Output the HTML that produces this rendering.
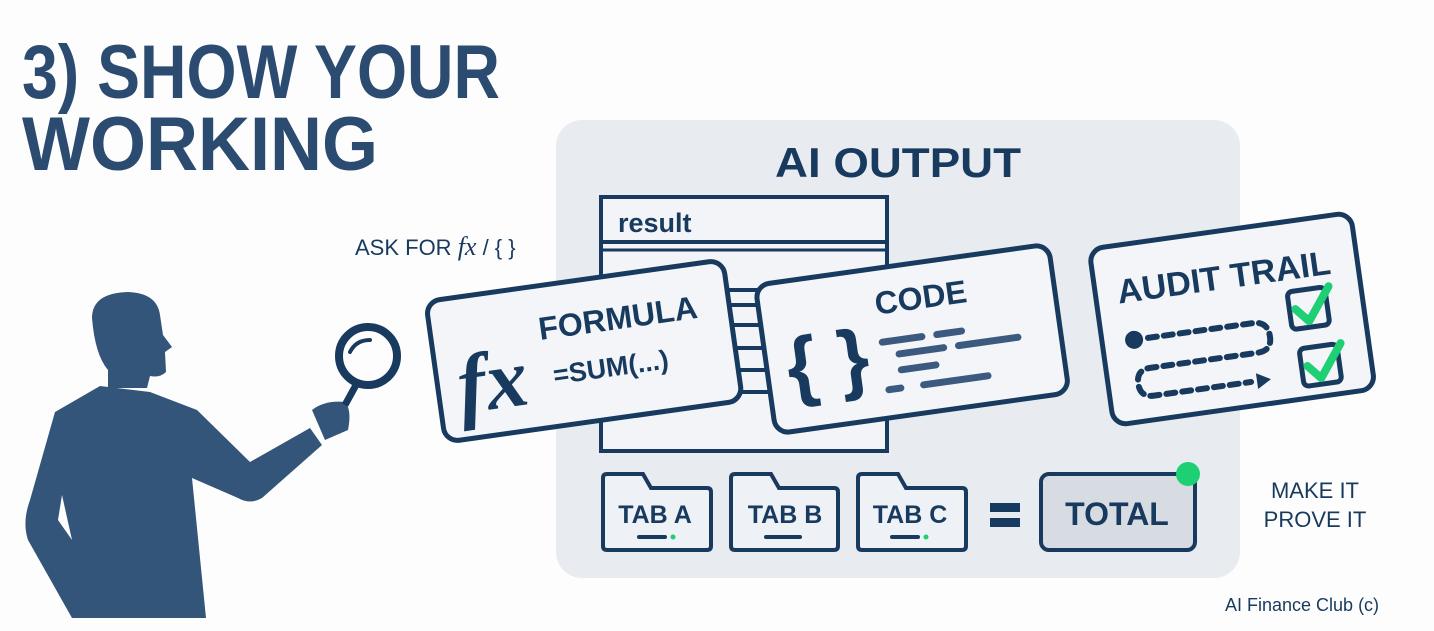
<!DOCTYPE html>
<html><head><meta charset="utf-8"><style>html,body{margin:0;padding:0;background:#fff}svg{display:block}</style></head>
<body>
<svg width="1434" height="631" viewBox="0 0 1434 631" xmlns="http://www.w3.org/2000/svg" font-family="Liberation Sans, sans-serif">
<rect width="1434" height="631" fill="#fdfdfe"/>
<text x="22" y="98" font-size="76" font-weight="bold" fill="#2b4b70" textLength="478" lengthAdjust="spacingAndGlyphs">3) SHOW YOUR</text>
<text x="22" y="170" font-size="76" font-weight="bold" fill="#2b4b70" textLength="356" lengthAdjust="spacingAndGlyphs">WORKING</text>
<rect x="556" y="120" width="684" height="458" rx="26" fill="#e8ecf1"/>
<text x="898" y="177" font-size="42" font-weight="bold" fill="#173a5e" text-anchor="middle" textLength="246" lengthAdjust="spacingAndGlyphs">AI OUTPUT</text>
<rect x="601" y="197" width="286" height="254" fill="#f2f4f7" stroke="#173a5e" stroke-width="4"/>
<line x1="601" y1="242" x2="887" y2="242" stroke="#173a5e" stroke-width="4"/>
<line x1="601" y1="250" x2="887" y2="250" stroke="#173a5e" stroke-width="3"/>
<text x="618" y="232" font-size="27" font-weight="bold" fill="#173a5e">result</text>
<g stroke="#173a5e" stroke-width="4"><line x1="700" y1="290" x2="780" y2="290"/><line x1="700" y1="305" x2="780" y2="305"/><line x1="700" y1="325" x2="780" y2="325"/><line x1="700" y1="348" x2="780" y2="348"/><line x1="700" y1="370" x2="780" y2="370"/><line x1="700" y1="392" x2="780" y2="392"/></g>
<g transform="translate(584,350) rotate(-8)">
<rect x="-150" y="-70" width="300" height="142" rx="14" fill="#f3f5f8" stroke="#173a5e" stroke-width="5"/>
<text x="-130" y="46" font-family="Liberation Serif, serif" font-style="italic" font-weight="bold" font-size="84" fill="#173a5e">fx</text>
<text x="-42" y="-16" font-size="32" font-weight="bold" fill="#173a5e">FORMULA</text>
<text x="-34" y="30" font-size="27" font-weight="bold" fill="#173a5e">=SUM(...)</text>
</g>
<g transform="translate(912,338) rotate(-8)">
<rect x="-148" y="-74" width="296" height="150" rx="14" fill="#f3f5f8" stroke="#173a5e" stroke-width="5"/>
<text x="-128" y="38" font-size="78" font-weight="bold" fill="#173a5e">{ }</text>
<text x="-32" y="-28" font-size="32" font-weight="bold" fill="#173a5e">CODE</text>
<g stroke="#3c5a80" stroke-width="7" stroke-linecap="round">
<line x1="-30" y1="0" x2="10" y2="0"/><line x1="25" y1="0" x2="50" y2="0"/>
<line x1="-15" y1="14" x2="30" y2="14"/><line x1="45" y1="14" x2="105" y2="14"/>
<line x1="-15" y1="30" x2="20" y2="30"/>
<line x1="-30" y1="48" x2="-18" y2="48"/><line x1="5" y1="48" x2="70" y2="48"/>
</g>
</g>
<g transform="translate(1232,318) rotate(-8)">
<rect x="-132" y="-88" width="264" height="178" rx="14" fill="#f3f5f8" stroke="#173a5e" stroke-width="5"/>
<text x="-110" y="-30" font-size="34" font-weight="bold" fill="#173a5e" textLength="215" lengthAdjust="spacingAndGlyphs">AUDIT TRAIL</text>
<circle cx="-100" cy="8" r="9" fill="#173a5e"/>
<path d="M-86,8 L20,8 Q35,8 35,24 Q35,38 20,38 L-88,38 Q-102,38 -102,52 Q-102,66 -88,66 L10,66" fill="none" stroke="#173a5e" stroke-width="6" stroke-dasharray="9,7" stroke-linecap="round"/>
<path d="M16,58 L30,66 L16,74 Z" fill="#173a5e"/>
<rect x="58" y="-18" width="38" height="38" rx="5" fill="none" stroke="#173a5e" stroke-width="5"/>
<rect x="62" y="40" width="38" height="38" rx="5" fill="none" stroke="#173a5e" stroke-width="5"/>
<path d="M64,0 L76,14 L100,-18" fill="none" stroke="#1fcf73" stroke-width="8" stroke-linecap="round" stroke-linejoin="round"/>
<path d="M68,58 L80,72 L104,40" fill="none" stroke="#1fcf73" stroke-width="8" stroke-linecap="round" stroke-linejoin="round"/>
</g>
<g fill="#eef1f5" stroke="#173a5e" stroke-width="4">
<path d="M603,478 Q603,474 607,474 L643,474 L651,488 L707,488 Q711,488 711,492 L711,546 Q711,550 707,550 L607,550 Q603,550 603,546 Z"/>
<path d="M731,478 Q731,474 735,474 L771,474 L779,488 L834,488 Q838,488 838,492 L838,546 Q838,550 834,550 L735,550 Q731,550 731,546 Z"/>
<path d="M858,478 Q858,474 862,474 L898,474 L906,488 L962,488 Q966,488 966,492 L966,546 Q966,550 962,550 L862,550 Q858,550 858,546 Z"/>
</g>
<g font-size="25" font-weight="bold" fill="#173a5e" text-anchor="middle">
<text x="655" y="523">TAB A</text><text x="785" y="523">TAB B</text><text x="910" y="523">TAB C</text>
</g>
<g stroke="#173a5e" stroke-width="4" stroke-linecap="round"><line x1="639" y1="537" x2="665" y2="537"/><line x1="766" y1="537" x2="800" y2="537"/><line x1="892" y1="537" x2="918" y2="537"/></g>
<circle cx="673" cy="537" r="2.5" fill="#1fcf73"/><circle cx="926" cy="537" r="2.5" fill="#1fcf73"/>
<rect x="990" y="503" width="30" height="9" fill="#173a5e"/><rect x="990" y="518" width="30" height="9" fill="#173a5e"/>
<rect x="1041" y="474" width="154" height="76" rx="8" fill="#d7dce2" stroke="#173a5e" stroke-width="4"/>
<text x="1117" y="525" font-size="32" font-weight="bold" fill="#173a5e" text-anchor="middle">TOTAL</text>
<circle cx="1188" cy="474" r="12" fill="#1fcf73"/>
<text x="1315" y="498" font-size="22" fill="#173a5e" text-anchor="middle">MAKE IT</text>
<text x="1315" y="527" font-size="22" fill="#173a5e" text-anchor="middle">PROVE IT</text>
<text x="1225" y="611" font-size="18" fill="#173a5e">AI Finance Club (c)</text>
<text x="355" y="255" font-size="22" fill="#173a5e">ASK FOR <tspan font-family="Liberation Serif, serif" font-style="italic" font-size="26">fx</tspan> / { }</text>
<g fill="#34557a">
<path d="M92,318 Q92,293 128,292 Q157,293 160,315 L163,335 L172,347 L165,352 L166,372 Q160,378 150,376 L147,388 L108,388 L108,370 Q95,355 92,318 Z"/>
<path d="M100,386 L150,392 L197,410 L250,462 L310,428 L322,445 L262,498 Q250,505 238,498 L192,478 L206,618 L72,618 L28,540 Q22,522 30,500 L55,412 Z"/>
<path d="M312,410 Q325,400 345,402 Q352,410 348,430 L325,440 Z"/>
</g>
<path d="M62,495 L72,540 L58,520 Z" fill="#fdfdfe"/>
<line x1="345" y1="405" x2="356" y2="385" stroke="#173a5e" stroke-width="7"/>
<circle cx="368" cy="356" r="29" fill="none" stroke="#173a5e" stroke-width="8"/>
<path d="M350,352 Q356,340 370,340" fill="none" stroke="#173a5e" stroke-width="4" stroke-linecap="round"/>
</svg>
</body></html>
